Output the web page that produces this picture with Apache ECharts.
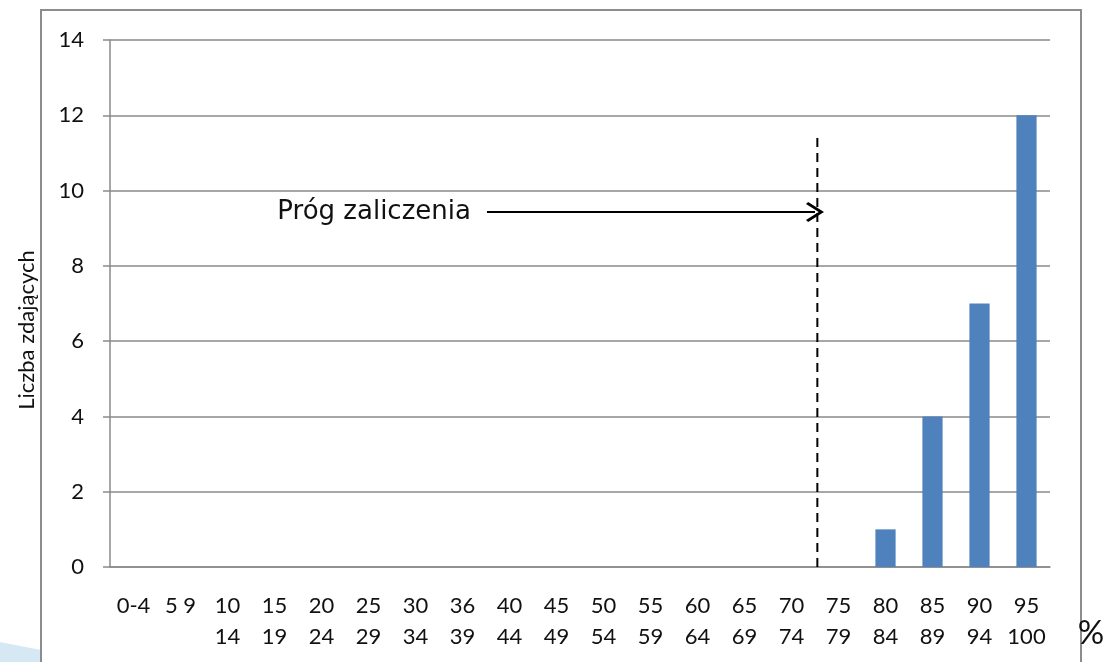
<!DOCTYPE html>
<html><head><meta charset="utf-8">
<script src="https://cdn.jsdelivr.net/npm/echarts@6/dist/echarts.min.js"></script>
<style>html,body{margin:0;padding:0;background:#fff}#c{width:1106px;height:662px}</style>
</head><body><div id="c"></div>
<script>
const categories = ['0-4','5 9','10\n14','15\n19','20\n24','25\n29','30\n34','36\n39','40\n44','45\n49','50\n54','55\n59','60\n64','65\n69','70\n74','75\n79','80\n84','85\n89','90\n94','95\n100'];
const counts = [0,0,0,0,0,0,0,0,0,0,0,0,0,0,0,0,1,4,7,12];
const yTicks = {min:0, max:14, interval:2};
const thresholdX = 15.05;      // position on hidden 0..20 category-scale axis
const thresholdTop = 11.45;
const arrowStartX = 8.02;
const arrowY = 9.43;
const annotation = 'Próg zaliczenia';
const yTitle = 'Liczba zdających';

const chart = echarts.init(document.getElementById('c'), null, {renderer:'canvas'});
const axisFont = 'Lato, "Open Sans", sans-serif';
chart.setOption({
  animation:false,
  grid:{left:110, right:56, top:40, bottom:95},
  xAxis:[{
    type:'category', data:categories,
    axisLine:{lineStyle:{color:'#8a8a8a', width:1.5}},
    axisTick:{length:8, lineStyle:{color:'#8a8a8a', width:1.5}},
    axisLabel:{color:'#111', fontSize:22, fontFamily:axisFont, lineHeight:31, margin:23, interval:0}
  },{
    type:'value', min:0, max:20, show:false
  }],
  yAxis:{
    type:'value', min:yTicks.min, max:yTicks.max, interval:yTicks.interval,
    axisLine:{show:true, lineStyle:{color:'#8a8a8a', width:1.5}},
    axisTick:{show:true, length:7, lineStyle:{color:'#8a8a8a', width:1.5}},
    splitLine:{lineStyle:{color:'#8a8a8a', width:1.5}},
    axisLabel:{color:'#111', fontSize:22, fontFamily:axisFont, margin:26}
  },
  series:[{
    type:'bar', data:counts, barWidth:'43%', itemStyle:{color:'#4f81bd'}
  },{
    type:'line', xAxisIndex:1, symbol:'none',
    data:[[thresholdX,0],[thresholdX,thresholdTop]],
    lineStyle:{color:'#000', width:2, type:[9,6]},
    markLine:{
      silent:true, animation:false,
      symbol:['none','path://M10,0 L20,15 L18,17 L10,5 L2,17 L0,15 Z'],
      symbolSize:[20,18],
      lineStyle:{color:'#000', width:2, type:'solid'},
      label:{show:true, position:'start', formatter:annotation, color:'#111', fontSize:26, fontFamily:'"DejaVu Sans", sans-serif', distance:16, padding:[0,0,8,0]},
      data:[[{coord:[arrowStartX,arrowY]},{coord:[thresholdX-0.05,arrowY]}]]
    }
  }],
  graphic:[
    {type:'polygon', shape:{points:[[0,642],[41,650],[41,662],[0,662]]}, style:{fill:'#d6e8f4'}, z:-1},
    {type:'rect', shape:{x:41, y:10, width:1040, height:720}, style:{fill:'none', stroke:'#8c8c8c', lineWidth:2}, z:-1},
    {type:'text', x:27, y:330, rotation:Math.PI/2, style:{text:yTitle, fontSize:22, fontFamily:axisFont, fill:'#111', align:'center', verticalAlign:'middle'}},
    {type:'text', x:1091, y:633, style:{text:'%', fontSize:33, fontFamily:axisFont, fill:'#111', align:'center', verticalAlign:'middle'}}
  ]
});
</script></body></html>
